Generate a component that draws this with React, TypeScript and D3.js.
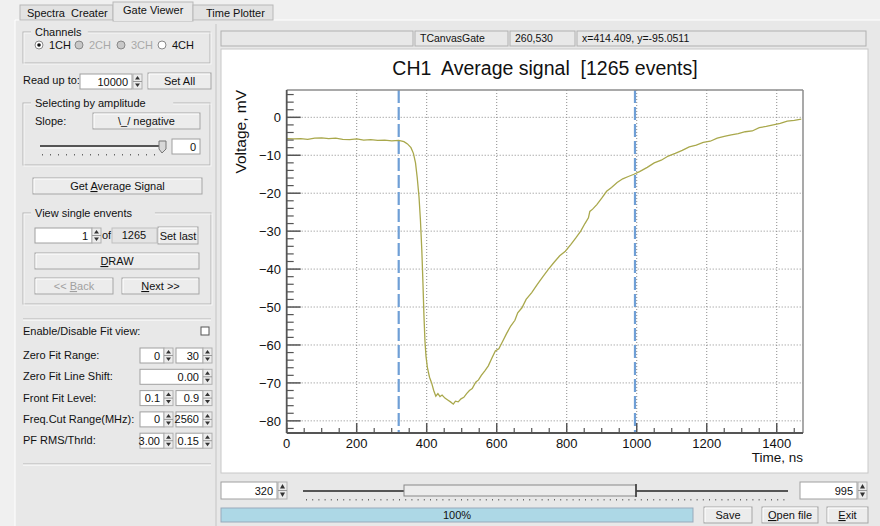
import React from 'react';
import * as d3 from 'd3';

// averaged waveform (time in ns, voltage in mV)
const times = [0, 20, 40, 60, 80, 100, 120, 140, 160, 180, 200, 220, 240, 260, 280, 300, 320, 335, 345, 355, 362, 368, 373, 378, 382, 386, 389, 392, 395, 398, 402, 408, 414, 420, 426, 432, 438, 444, 452, 460, 468, 476, 482, 490, 498, 506, 514, 522, 530, 540, 548, 556, 566, 576, 586, 596, 606, 616, 628, 640, 652, 660, 672, 684, 700, 716, 732, 748, 764, 780, 796, 812, 826, 840, 852, 862, 866, 874, 886, 900, 914, 928, 944, 960, 976, 992, 1008, 1030, 1050, 1070, 1090, 1110, 1130, 1150, 1170, 1190, 1210, 1230, 1250, 1270, 1290, 1310, 1330, 1350, 1370, 1390, 1410, 1430, 1450, 1470];
const volts = [-5.6, -5.7, -5.6, -5.8, -5.5, -5.4, -5.6, -5.5, -5.8, -5.9, -5.7, -6.0, -5.9, -6.1, -6.0, -6.2, -6.1, -6.4, -7.0, -8.0, -9.5, -12, -16, -21, -27, -35, -43, -52, -59, -63, -66, -68.5, -70, -72, -73.5, -72.8, -73.6, -73.2, -74.0, -74.5, -75.0, -75.6, -74.8, -75.0, -74.2, -73.8, -72.8, -72.0, -71.5, -69.8, -69.2, -68.0, -66.8, -65.5, -63.5, -61.6, -61.0, -59.2, -57.0, -55.0, -53.5, -51.5, -50.2, -48.0, -46.2, -44.0, -42.0, -40.0, -38.2, -36.5, -35.3, -33.5, -31.8, -30.0, -28.0, -26.5, -24.8, -24.2, -23.0, -21.3, -19.5, -18.5, -17.2, -16.2, -15.6, -15.0, -14.3, -13.2, -12.0, -11.3, -10.2, -9.5, -8.7, -7.8, -7.3, -6.6, -6.3, -5.5, -5.0, -4.6, -4.3, -3.8, -3.6, -2.7, -2.4, -2.0, -1.6, -1.0, -0.8, -0.5];
const gateLines = [320, 995];
const xTicks = [0, 200, 400, 600, 800, 1000, 1200, 1400];
const yTicks = [0, -10, -20, -30, -40, -50, -60, -70, -80];
const titleText = 'CH1  Average signal  [1265 events]';
const xTitle = 'Time, ns';
const yTitle = 'Voltage, mV';

const tabs = ['Spectra  Creater', 'Gate Viewer', 'Time Plotter'];
const channels = ['1CH', '2CH', '3CH', '4CH'];
const fitRows = ['Zero Fit Range:', 'Zero Fit Line Shift:', 'Front Fit Level:', 'Freq.Cut Range(MHz):', 'PF RMS/Thrld:'];
const fitValues = [['0', '30'], ['0.00'], ['0.1', '0.9'], ['0', '2560'], ['3.00', '0.15']];
const statusCells = ['', 'TCanvasGate', '260,530', 'x=414.409, y=-95.0511'];

const GUI_FONT = '"Liberation Sans", Arial, sans-serif';
const BG = '#e8e8e8';

const Btn = ({ x, y, w, h, children, dim = false }: any) => (
  <g>
    <rect x={x} y={y} width={w} height={h} fill="#ececec" stroke="#a6a6a6" />
    <line x1={x + 1} y1={y + 1} x2={x + w - 1} y2={y + 1} stroke="#fff" />
    <line x1={x + 1} y1={y + 1} x2={x + 1} y2={y + h - 1} stroke="#fff" />
    <text x={x + w / 2} y={y + h / 2 + 4} textAnchor="middle" fill={dim ? '#a0a0a0' : '#111'}>{children}</text>
  </g>
);

const Entry = ({ x, y, w, h = 15, value }: any) => (
  <g>
    <rect x={x} y={y} width={w} height={h} fill="#fff" stroke="#a0a0a0" />
    <text x={x + w - 4} y={y + h / 2 + 4} textAnchor="end" fill="#111">{value}</text>
  </g>
);

const Spin = ({ x, y, h = 15 }: any) => (
  <g>
    <rect x={x} y={y} width={9} height={h} fill="#ececec" stroke="#b0b0b0" />
    <line x1={x} y1={y + h / 2} x2={x + 9} y2={y + h / 2} stroke="#999" />
    <path d={`M${x + 2},${y + h / 2 - 2}L${x + 7},${y + h / 2 - 2}L${x + 4.5},${y + 2}Z`} fill="#333" />
    <path d={`M${x + 2},${y + h / 2 + 2}L${x + 7},${y + h / 2 + 2}L${x + 4.5},${y + h - 2}Z`} fill="#333" />
  </g>
);

const Group = ({ x, y, w, h, label }: any) => (
  <g>
    <rect x={x} y={y} width={w} height={h} fill="none" stroke="#b4b4b4" />
    <rect x={x + 1} y={y + 1} width={w} height={h} fill="none" stroke="#fff" opacity={0.7} />
    <rect x={x + 8} y={y - 6} width={label.length * 6.1 + 8} height={12} fill={BG} />
    <text x={x + 12} y={y + 4}>{label}</text>
  </g>
);

function LeftPanel() {
  const chX = [39, 79, 121, 162];
  return (
    <g fontFamily={GUI_FONT} fontSize={11} fill="#111">
      {/* tabs */}
      {tabs.map((t, i) => {
        const x0 = [20, 113, 193][i];
        const x1 = [113, 193, 273][i];
        const sel = i === 1;
        return (
          <g key={t}>
            <rect x={x0} y={sel ? 2 : 5} width={x1 - x0} height={sel ? 19 : 15} fill={sel ? BG : '#e2e2e2'} stroke="#b8b8b8" />
            {sel && <line x1={x0 + 1} y1={20} x2={x1 - 1} y2={20} stroke={BG} strokeWidth={2} />}
            <text x={x0 + (sel ? 10 : 7) + (i === 2 ? 6 : 0)} y={sel ? 14 : 17} style={{ whiteSpace: 'pre' }}>{t}</text>
          </g>
        );
      })}

      <Group x={23} y={32} w={187} h={31} label="Channels" />
      {channels.map((c, i) => (
        <g key={c}>
          <circle cx={chX[i]} cy={45} r={4} fill={i === 1 || i === 2 ? '#c8c8c8' : '#fff'} stroke="#888" />
          {i === 0 && <circle cx={chX[i]} cy={45} r={1.8} fill="#111" />}
          <text x={chX[i] + 10} y={49} fill={i === 1 || i === 2 ? '#a8a8a8' : '#111'}>{c}</text>
        </g>
      ))}

      <text x={23} y={84}>Read up to:</text>
      <Entry x={80} y={74} w={52} value="10000" />
      <Spin x={133} y={74} />
      <Btn x={148} y={73} w={63} h={16}>Set All</Btn>

      <Group x={23} y={103} w={187} h={62} label="Selecting by amplitude" />
      <text x={35} y={125}>Slope:</text>
      <Btn x={93} y={113} w={107} h={16}>\_/ negative</Btn>
      <line x1={40} y1={146} x2={162} y2={146} stroke="#555" strokeWidth={2} />
      <line x1={40} y1={148} x2={162} y2={148} stroke="#fff" />
      <path d="M159,141L166,141L166,149L162,153L159,149Z" fill="#d8d8d8" stroke="#777" />
      {d3.range(42, 162, 8).map(d => <rect key={d} x={d} y={154} width={1} height={1.5} fill="#666" />)}
      <Entry x={172} y={139} w={28} value="0" />

      <Btn x={33} y={178} w={169} h={16}>Get <tspan textDecoration="underline">A</tspan>verage Signal</Btn>

      <Group x={23} y={213} w={188} h={91} label="View single envents" />
      <Entry x={35} y={228} w={57} value="1" />
      <Spin x={92} y={228} />
      <text x={102} y={239}>of</text>
      <rect x={112} y={228} width={45} height={15} fill="#e4e4e4" stroke="#c0c0c0" />
      <text x={134} y={239} textAnchor="middle">1265</text>
      <Btn x={158} y={227} w={40} h={17}>Set last</Btn>
      <Btn x={35} y={253} w={164} h={16}><tspan textDecoration="underline">D</tspan>RAW</Btn>
      <Btn x={35} y={278} w={78} h={16} dim><tspan>{'<< '}</tspan><tspan textDecoration="underline">B</tspan>ack</Btn>
      <Btn x={122} y={278} w={77} h={16}><tspan textDecoration="underline">N</tspan>ext &gt;&gt;</Btn>

      <line x1={23} y1={319} x2={211} y2={319} stroke="#b4b4b4" />
      <line x1={23} y1={320} x2={211} y2={320} stroke="#fff" />
      <text x={23} y={335}>Enable/Disable Fit view:</text>
      <rect x={201} y={327} width={8} height={8} fill="#fff" stroke="#555" />

      {fitRows.map((r, i) => {
        const y = 348 + i * 21.3;
        const v = fitValues[i];
        return (
          <g key={r}>
            <text x={23} y={y + 11}>{r}</text>
            {v.length === 2 ? (
              <g>
                <Entry x={140} y={y} w={24} value={v[0]} />
                <Spin x={164} y={y} />
                <Entry x={176} y={y} w={27} value={v[1]} />
                <Spin x={203} y={y} />
              </g>
            ) : (
              <g>
                <Entry x={140} y={y} w={63} value={v[0]} />
                <Spin x={203} y={y} />
              </g>
            )}
          </g>
        );
      })}
      <line x1={23} y1={464} x2={211} y2={464} stroke="#b4b4b4" />
      <line x1={23} y1={465} x2={211} y2={465} stroke="#fff" />
    </g>
  );
}

function Chart() {
  const x = d3.scaleLinear().domain([0, 1475]).range([286.7, 803]);
  const y = d3.scaleLinear().domain([-83.2, 7.2]).range([433, 90]);
  const line = d3.line<number>().x((_, i) => x(times[i])).y(d => y(d));
  const fmt = d3.format('d');
  const yMinor = d3.range(-82, 8, 2).filter(v => v % 10 !== 0);
  const xMinor = d3.range(50, 1475, 50).filter(v => v % 200 !== 0);
  const [x0, x1] = x.range();
  const [y0, y1] = y.range();
  return (
    <g fontFamily={GUI_FONT}>
      <text x={545} y={75} textAnchor="middle" fontSize={19.5} style={{ whiteSpace: 'pre' }} fill="#111">{titleText}</text>
      {/* grid */}
      {xTicks.slice(1).map(t => <line key={t} x1={x(t)} x2={x(t)} y1={y1} y2={y0} stroke="#8a8a8a" strokeDasharray="1 2" />)}
      {yTicks.map(t => <line key={t} x1={x0} x2={x1} y1={y(t)} y2={y(t)} stroke="#8a8a8a" strokeDasharray="1 2" />)}
      {/* gates */}
      {gateLines.map(g => <line key={g} x1={x(g)} x2={x(g)} y1={y1} y2={y0} stroke="#6f9fd6" strokeWidth={2.2} strokeDasharray="13 4" />)}
      <path d={line(volts) || ''} fill="none" stroke="#a9a84c" strokeWidth={1.3} />
      {/* frame */}
      <line x1={x0} y1={y1} x2={x1} y2={y1} stroke="#8c8c8c" strokeWidth={1.5} />
      <line x1={x1} y1={y1} x2={x1} y2={y0} stroke="#8c8c8c" strokeWidth={1.5} />
      <line x1={x0} y1={y1} x2={x0} y2={y0} stroke="#555" strokeWidth={1.8} />
      <line x1={x0} y1={y0} x2={x1} y2={y0} stroke="#555" strokeWidth={1.8} />
      {/* y ticks */}
      {yTicks.map(t => (
        <g key={t}>
          <line x1={x0} x2={x0 + 14} y1={y(t)} y2={y(t)} stroke="#555" strokeWidth={1.5} />
          <text x={281} y={y(t) + 4.7} textAnchor="end" fontSize={13} fill="#111">{fmt(t)}</text>
        </g>
      ))}
      {yMinor.map(t => <line key={t} x1={x0} x2={x0 + 7} y1={y(t)} y2={y(t)} stroke="#555" strokeWidth={1.2} />)}
      {/* x ticks */}
      {xTicks.map(t => (
        <g key={t}>
          <line x1={x(t)} x2={x(t)} y1={y0} y2={y0 - 10} stroke="#555" strokeWidth={1.5} />
          <text x={x(t)} y={448} textAnchor="middle" fontSize={13} fill="#111">{fmt(t)}</text>
        </g>
      ))}
      {xMinor.map(t => <line key={t} x1={x(t)} x2={x(t)} y1={y0} y2={y0 - 5} stroke="#555" strokeWidth={1.2} />)}
      <text x={x1} y={462} textAnchor="end" fontSize={13.5} fill="#111">{xTitle}</text>
      <text transform={`translate(246,90) rotate(-90)`} textAnchor="end" fontSize={15.5} fill="#111">{yTitle}</text>
    </g>
  );
}

function RightPanel() {
  const cellX = [221, 415, 510, 577, 868];
  return (
    <g fontFamily={GUI_FONT} fontSize={10.5} fill="#111">
      <line x1={216} y1={24} x2={216} y2={526} stroke="#c4c4c4" />
      {statusCells.map((c, i) => (
        <g key={i}>
          <rect x={cellX[i]} y={31} width={cellX[i + 1] - cellX[i] - 2} height={15} fill={BG} stroke="#b0b0b0" />
          <text x={cellX[i] + 5} y={42}>{c}</text>
        </g>
      ))}
      <rect x={221} y={49} width={647} height={424} fill="#fff" stroke="#c8c8c8" />
      <Chart />
      <g fontSize={11}>
        <Entry x={221} y={482} w={56} h={17} value="320" />
        <Spin x={278} y={482} h={17} />
        <line x1={303} y1={491} x2={788} y2={491} stroke="#555" strokeWidth={2} />
        <rect x={404} y={485} width={232} height={11} fill="#ececec" stroke="#888" />
        <line x1={636} y1={484} x2={636} y2={497} stroke="#333" strokeWidth={1.5} />
        {d3.range(306, 788, 6.2).map(d => <rect key={d} x={d} y={499} width={1} height={1.5} fill="#666" />)}
        <Entry x={800} y={482} w={57} h={17} value="995" />
        <Spin x={858} y={482} h={17} />
        <rect x={221} y={508} width={472} height={14} fill="#add8e6" stroke="#9ab" />
        <text x={457} y={519} textAnchor="middle">100%</text>
        <Btn x={704} y={507} w={48} h={16}>Save</Btn>
        <Btn x={762} y={507} w={56} h={16}><tspan textDecoration="underline">O</tspan>pen file</Btn>
        <Btn x={827} y={507} w={41} h={16}><tspan textDecoration="underline">E</tspan>xit</Btn>
      </g>
    </g>
  );
}

export default function App() {
  return (
    <div style={{ position: 'fixed', left: 0, top: 0 }}>
      <svg width={880} height={526} style={{ display: 'block' }}>
        <rect width={880} height={526} fill="#f0f0f0" />
        <rect x={15} y={20} width={865} height={506} fill={BG} />
        <line x1={15} y1={20} x2={880} y2={20} stroke="#fff" />
        <line x1={15} y1={20} x2={15} y2={526} stroke="#fff" />
        <LeftPanel />
        <RightPanel />
      </svg>
    </div>
  );
}
